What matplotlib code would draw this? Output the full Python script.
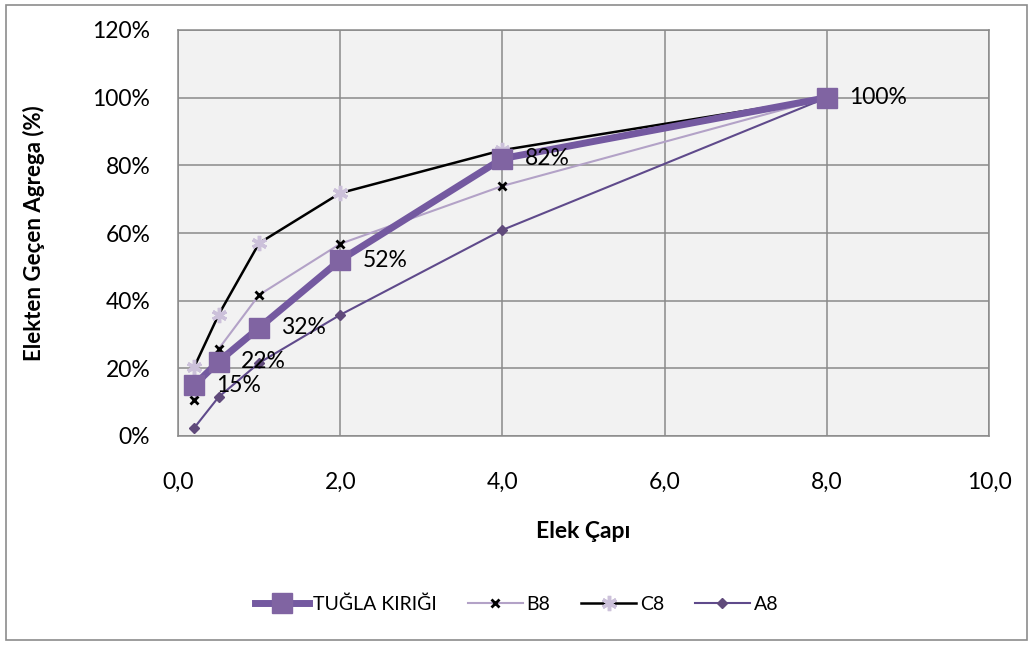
import matplotlib.pyplot as plt
from matplotlib.ticker import FuncFormatter, MultipleLocator
from matplotlib.patches import Rectangle

plt.rcParams['font.family'] = ['Lato', 'DejaVu Sans']

# sieve sizes (mm) and passing percentages
elek = [0.2, 0.5, 1.0, 2.0, 4.0, 8.0]
tugla = [15, 22, 32, 52, 82, 100]
b8 = [10.6, 25.7, 41.7, 56.8, 73.9, 100]
c8 = [20.4, 35.8, 57.0, 71.8, 84.5, 100]
a8 = [2.4, 11.5, 21.6, 35.8, 60.9, 100]
tugla_labels = ['15%', '22%', '32%', '52%', '82%', '100%']

fig = plt.figure(figsize=(10.33, 6.46), dpi=100)
fig.patch.set_facecolor('white')
# outer chart border
fig.add_artist(Rectangle((0.006, 0.009), 0.988, 0.984, transform=fig.transFigure,
                         fill=False, edgecolor='#8c8c8c', linewidth=1.2))

ax = fig.add_axes([178 / 1033, 1 - 436 / 646, (989 - 178) / 1033, (436 - 30) / 646])
ax.set_facecolor('#f2f2f2')

grid_c = '#8a8a8a'
ax.grid(True, color=grid_c, linewidth=1.1)
ax.set_axisbelow(True)
for s in ax.spines.values():
    s.set_color(grid_c)
    s.set_linewidth(1.1)

# draw series
ax.plot(elek, b8, color='#b3a2c7', linewidth=1.5, marker='x', markersize=6,
        markeredgecolor='black', markeredgewidth=2, label='B8', zorder=3)
ax.plot(elek, c8, color='black', linewidth=1.8, marker=(6, 2, 0), markersize=11,
        markeredgecolor='#ccc1da', markeredgewidth=2.5, label='C8', zorder=4)
ax.plot(elek, a8, color='#5f4a8b', linewidth=1.5, marker='D', markersize=5,
        markerfacecolor='#604a7b', markeredgecolor='#604a7b', label='A8', zorder=3)
ax.plot(elek, tugla, color='#7459a0', linewidth=5, marker='s', markersize=14,
        markerfacecolor='#8064a2', markeredgecolor='#8064a2', label='TUĞLA KIRIĞI', zorder=5)

for x, y, t in zip(elek, tugla, tugla_labels):
    ax.annotate(t, (x, y), xytext=(16, 0), textcoords='offset points',
                ha='left', va='center', fontsize=16.5, color='black', zorder=6)

ax.set_xlim(0, 10)
ax.set_ylim(0, 120)
ax.xaxis.set_major_locator(MultipleLocator(2))
ax.yaxis.set_major_locator(MultipleLocator(20))
ax.xaxis.set_major_formatter(FuncFormatter(lambda v, p: f'{v:.1f}'.replace('.', ',')))
ax.yaxis.set_major_formatter(FuncFormatter(lambda v, p: f'{v:.0f}%'))
ax.tick_params(length=0, labelsize=16.5)
ax.tick_params(axis='x', pad=26)
ax.tick_params(axis='y', pad=20)

ax.set_xlabel('Elek Çapı', fontsize=16.5, fontweight='bold', labelpad=20)
ax.set_ylabel('Elekten Geçen Agrega (%)', fontsize=16, fontweight='bold', labelpad=34)

handles, labels = ax.get_legend_handles_labels()
order = [3, 0, 1, 2]
fig.legend([handles[i] for i in order], [labels[i] for i in order],
           loc='center', bbox_to_anchor=(0.5, 1 - 604 / 646), ncol=4, frameon=False,
           fontsize=14, handlelength=2.8, handletextpad=0.2, columnspacing=1.6)

fig.savefig('out.png', dpi=100)
